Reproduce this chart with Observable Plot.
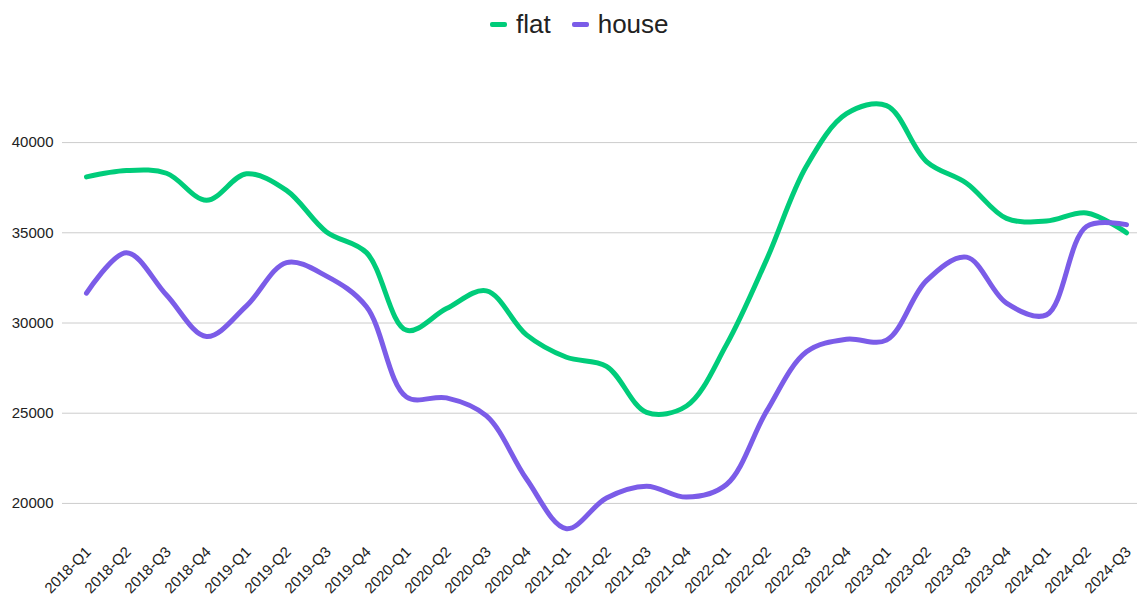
<!DOCTYPE html>
<html>
<head>
<meta charset="utf-8">
<script src="https://cdn.jsdelivr.net/npm/d3@7"></script>
<script src="https://cdn.jsdelivr.net/npm/@observablehq/plot@0.6"></script>
<style>
  html, body { margin: 0; padding: 0; background: #fff; }
  body { width: 1137px; height: 599px; overflow: hidden; font-family: "Liberation Sans", Arial, sans-serif; }
  #legend { height: 48px; display: flex; align-items: center; padding-left: 490px; box-sizing: border-box; font-size: 26px; color: #222; }
  .item { display: flex; align-items: center; margin-right: 21px; }
  .sw { width: 17px; height: 5px; border-radius: 2px; margin-right: 9px; }
  svg { display: block; }
</style>
</head>
<body>
<div id="legend"></div>
<div id="chart"></div>
<script>
const quarters = ["2018-Q1","2018-Q2","2018-Q3","2018-Q4","2019-Q1","2019-Q2","2019-Q3","2019-Q4",
  "2020-Q1","2020-Q2","2020-Q3","2020-Q4","2021-Q1","2021-Q2","2021-Q3","2021-Q4",
  "2022-Q1","2022-Q2","2022-Q3","2022-Q4","2023-Q1","2023-Q2","2023-Q3","2023-Q4",
  "2024-Q1","2024-Q2","2024-Q3"];
const flat = [38100, 38450, 38300, 36800, 38270, 37350, 35050, 33900, 29600, 30800, 31780, 29340, 28100, 27600, 25050, 25400, 28800, 33500, 38700, 41600, 42050, 38950, 37750, 35800, 35650, 36100, 35000];
const house = [31650, 33900, 31550, 29250, 30950, 33350, 32600, 30900, 25900, 25850, 24850, 21350, 18600, 20300, 20950, 20350, 21050, 25100, 28400, 29100, 29050, 32350, 33650, 31100, 30450, 35350, 35450];
const seriesNames = ["flat", "house"];
const colors = ["#00cc7a", "#7b5ce8"];
const yTicks = [20000, 25000, 30000, 35000, 40000];

const rows = [];
quarters.forEach((q, i) => {
  rows.push({quarter: q, value: flat[i], series: "flat"});
  rows.push({quarter: q, value: house[i], series: "house"});
});

const legend = document.getElementById("legend");
seriesNames.forEach((s, i) => {
  const it = document.createElement("div");
  it.className = "item";
  const sw = document.createElement("span");
  sw.className = "sw";
  sw.style.background = colors[i];
  const t = document.createElement("span");
  t.textContent = s;
  it.appendChild(sw); it.appendChild(t);
  legend.appendChild(it);
});

const chart = Plot.plot({
  width: 1137,
  height: 551,
  marginTop: 58,
  marginBottom: 60,
  marginLeft: 62,
  marginRight: 0,
  style: {fontFamily: "'Liberation Sans', Arial, sans-serif", fontSize: "15px", color: "#222"},
  x: {type: "point", domain: quarters, padding: 0, insetLeft: 21, insetRight: 8, label: null},
  y: {domain: [18000, 42000], label: null},
  color: {domain: seriesNames, range: colors},
  marks: [
    Plot.ruleY(yTicks, {stroke: "#cccccc", strokeWidth: 1}),
    Plot.axisY({ticks: yTicks, tickSize: 0, tickPadding: 9, tickFormat: d => String(d), fontSize: 15}),
    Plot.axisX({tickSize: 0, tickPadding: 10, dx: 2, tickRotate: -45, fontSize: 15}),
    Plot.line(rows, {x: "quarter", y: "value", z: "series", stroke: "series", strokeWidth: 5, curve: "catmull-rom"})
  ]
});
document.getElementById("chart").appendChild(chart);
</script>
</body>
</html>
